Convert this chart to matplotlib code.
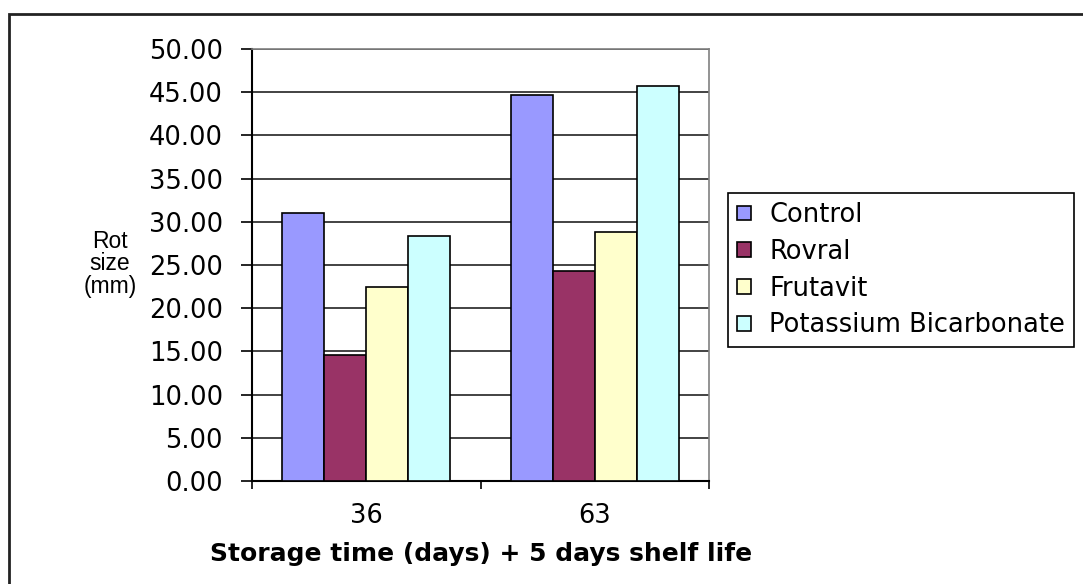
import numpy as np
import matplotlib.pyplot as plt
from matplotlib.patches import Rectangle

plt.rcParams['font.family'] = ['DejaVu Sans']

days = ['36', '63']
series = ['Control', 'Rovral', 'Frutavit', 'Potassium Bicarbonate']
control = [31.0, 44.7]
rovral = [14.6, 24.3]
frutavit = [22.5, 28.8]
potassium = [28.3, 45.7]
colors = ['#9999FF', '#993366', '#FFFFCC', '#CCFFFF']

fig = plt.figure(figsize=(10.83, 5.84), dpi=100)
ax = fig.add_axes([252/1083, 103/584, 457/1083, 432/584])

x = np.arange(len(days))
w = 0.184
values = [control, rovral, frutavit, potassium]
for i, (name, vals) in enumerate(zip(series, values)):
    ax.bar(x + (i - 1.5) * w, vals, w, color=colors[i], edgecolor='black',
           linewidth=1.2, label=name, zorder=3)

ax.set_xlim(-0.5, 1.5)
ax.set_ylim(0, 50)
ax.set_yticks(np.arange(0, 50.1, 5))
ax.set_yticklabels(['%.2f' % v for v in np.arange(0, 50.1, 5)])
ax.yaxis.grid(True, color='#222222', linewidth=1.2, zorder=0)
ax.set_xticks([-0.5, 0.5, 1.5])
ax.set_xticklabels([])
ax.set_xticks(x, minor=True)
ax.set_xticklabels(days, minor=True)
ax.tick_params(axis='x', which='major', length=6, width=1.2, direction='out')
ax.tick_params(axis='x', which='minor', length=0, pad=16, labelsize=18.5)
ax.tick_params(axis='y', length=8, width=1.2, pad=13, labelsize=18.5)

for s in ['left', 'bottom']:
    ax.spines[s].set_color('black')
    ax.spines[s].set_linewidth(1.5)
for s in ['top', 'right']:
    ax.spines[s].set_color('#808080')
    ax.spines[s].set_linewidth(1.2)

fig.text(481/1083, 1 - 554/584, 'Storage time (days) + 5 days shelf life',
         ha='center', va='center', fontsize=18, fontweight='bold')
fig.text(110/1083, 1 - 264/584, 'Rot\nsize\n(mm)', ha='center', va='center',
         fontsize=16.5, multialignment='center', linespacing=0.95,
         family='Liberation Sans')

leg = ax.legend(loc='upper left', bbox_to_anchor=(728/1083, 1 - 193/584),
                bbox_transform=fig.transFigure, fontsize=18.5, frameon=True,
                fancybox=False, edgecolor='black', framealpha=1,
                handlelength=0.55, handleheight=0.5, handletextpad=0.7,
                labelspacing=0.42, borderpad=0.35, borderaxespad=0)
leg.get_frame().set_linewidth(1.2)

fig.patches.append(Rectangle((9/1083, -0.1), 1.2, 1 - 14/584 + 0.1,
                             transform=fig.transFigure, fill=False,
                             edgecolor='#222222', linewidth=2))

fig.savefig('out.png', dpi=100)
